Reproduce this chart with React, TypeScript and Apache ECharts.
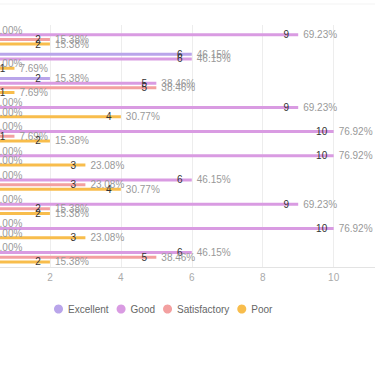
import React, { useEffect, useRef } from "react";
import * as echarts from "echarts";

const categories = ["Q1", "Q2", "Q3", "Q4", "Q5", "Q6", "Q7", "Q8", "Q9", "Q10"];
const seriesNames = ["Excellent", "Good", "Satisfactory", "Poor"];
const excellent = [0, 6, 2, 0, 0, 0, 0, 0, 0, 0];
const good = [9, 6, 5, 9, 10, 10, 6, 9, 10, 6];
const satisfactory = [2, 0, 5, 0, 1, 0, 3, 2, 0, 5];
const poor = [2, 1, 1, 4, 2, 3, 4, 2, 3, 2];
const totalRespondents = 13;
const xTicks = [0, 2, 4, 6, 8, 10, 12];
const colors = ["#b9a5ea", "#d99be2", "#f3a0a0", "#f8bd4c"];

const SHIFT = 60;
const W = 375 + SHIFT * 2;

export default function App() {
  const ref = useRef<HTMLDivElement>(null);
  useEffect(() => {
    if (!ref.current) return;
    const chart = echarts.init(ref.current, undefined, { renderer: "svg" });
    const values = [excellent, good, satisfactory, poor];
    const mkLabel = () => ({
      show: true,
      position: "right",
      distance: 5,
      offset: [-24, 0],
      formatter: (p: any) =>
        `{c|${p.value}}{p|${((p.value / totalRespondents) * 100).toFixed(2)}%}`,
      rich: {
        c: { width: 14, align: "right", color: "#333", fontSize: 10, fontFamily: "Liberation Sans" },
        p: { color: "#999", fontSize: 10, padding: [0, 0, 0, 10], fontFamily: "Liberation Sans" },
      },
    });
    chart.setOption({
      animation: false,
      color: colors,
      textStyle: { fontFamily: "Liberation Sans" },
      grid: { left: SHIFT - 21, right: W - (SHIFT + 404.6), top: 25, bottom: 99, containLabel: false },
      legend: {
        data: seriesNames,
        left: SHIFT + 49,
        top: 299,
        icon: "circle",
        itemWidth: 9,
        itemHeight: 9,
        itemGap: 8,
        textStyle: { fontSize: 10, color: "#666", fontFamily: "Liberation Sans" },
      },
      xAxis: {
        type: "value",
        min: xTicks[0],
        max: xTicks[xTicks.length - 1],
        interval: 2,
        axisLine: { show: true, lineStyle: { color: "#e3e3e3" } },
        axisTick: { show: false },
        axisLabel: { fontSize: 10, color: "#aaa", margin: 5 },
        splitLine: { lineStyle: { color: "#ededed" } },
      },
      yAxis: {
        type: "category",
        data: categories,
        inverse: true,
        axisLabel: { show: false },
        axisTick: { show: false },
        axisLine: { lineStyle: { color: "#e3e3e3" } },
      },
      graphic: [
        { type: "line", shape: { x1: SHIFT, y1: 4, x2: SHIFT + 375, y2: 4 }, style: { stroke: "#f3f3f3", lineWidth: 1 } },
      ],
      series: seriesNames.map((name, i) => ({
        name,
        type: "bar",
        data: values[i].map((v) =>
          v === 0 ? { value: v, label: { offset: [-14, 0] } } : v
        ),
        barWidth: 3,
        barGap: "55%",
        label: mkLabel(),
      })),
    });
    return () => chart.dispose();
  }, []);
  return (
    <div style={{ position: "absolute", left: 0, top: 0, width: 375, height: 366, overflow: "hidden" }}>
      <div
        ref={ref}
        style={{ position: "absolute", left: -SHIFT, top: 0, width: W, height: 366 }}
      />
    </div>
  );
}
